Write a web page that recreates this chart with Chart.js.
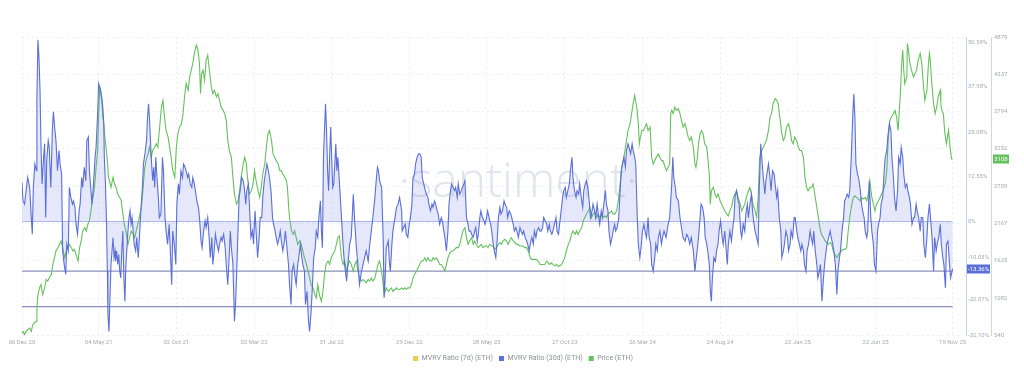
<!DOCTYPE html>
<html><head><meta charset="utf-8">
<script src="https://cdn.jsdelivr.net/npm/chart.js@4/dist/chart.umd.min.js"></script>
<style>html,body{margin:0;padding:0;background:#fff;}#c{display:block;}</style>
</head><body>
<canvas id="c" width="1024" height="374"></canvas>
<script>
// x = days since 06 Dec 2020
const tickDays = [0,149,300,451,602,753,903,1055,1206,1357,1508,1659,1809];
const tickLabels = ["06 Dec 20","04 May 21","02 Oct 21","02 Mar 22","31 Jul 22","29 Dec 22","28 May 23","27 Oct 23","26 Mar 24","24 Aug 24","22 Jan 25","22 Jun 25","19 Nov 25"];
const mvrvTicks = [50.59,37.98,25.08,12.55,0,-10.03,-22.07,-32.10];
const priceTicks = [540,1082,1625,2167,2709,3252,3794,4337,4879];
const refLines = [0,-14.0,-24.0];
const mvrv7d = [];
const mvrv30d = [[0,11.0],[2,5.8],[5,4.9],[8,8.7],[11,12.4],[15,9.6],[18,1.1],[20,-3.6],[22,9.6],[25,16.2],[28,14.3],[29,35.1],[31,51.2],[33,46.4],[35,37.0],[37,20.9],[39,10.6],[42,18.1],[44,21.9],[46,1.1],[48,17.2],[51,22.8],[53,20.9],[56,9.6],[59,25.7],[61,30.9],[64,25.7],[66,22.8],[69,14.3],[72,20.0],[74,16.2],[77,13.4],[79,-8.3],[82,-12.1],[85,-14.9],[87,-6.4],[90,-8.3],[92,9.6],[95,6.8],[98,4.9],[100,5.8],[103,4.0],[105,-0.8],[108,-3.6],[111,3.0],[113,4.9],[116,12.4],[118,9.6],[121,15.3],[124,11.5],[126,22.8],[129,23.8],[131,14.3],[134,8.7],[136,4.9],[139,10.6],[142,18.1],[144,20.9],[147,30.4],[149,38.9],[151,37.9],[153,37.0],[155,35.1],[157,32.3],[159,27.6],[160,18.1],[162,11.5],[164,1.1],[166,-14.0],[167,-26.3],[169,-31.0],[171,-21.5],[173,-12.1],[175,-8.3],[177,-4.5],[179,-10.2],[181,-8.3],[182,-11.2],[184,-8.3],[186,-12.1],[188,-9.3],[190,-14.0],[192,-15.9],[194,-8.3],[196,-2.7],[198,-15.9],[200,-22.5],[202,-12.1],[204,-7.4],[206,-2.7],[208,1.1],[210,3.0],[212,-0.8],[214,1.1],[216,-2.7],[218,-6.4],[221,-8.3],[223,-4.5],[226,-10.2],[229,-2.7],[231,3.0],[234,9.6],[236,16.2],[239,19.1],[242,22.8],[244,29.4],[246,33.2],[248,28.5],[250,21.9],[252,16.2],[254,11.5],[256,15.3],[258,9.6],[260,18.1],[262,13.4],[265,6.8],[267,1.1],[270,2.1],[273,18.1],[275,14.3],[278,1.1],[280,-2.7],[283,-6.4],[286,-0.8],[288,-7.4],[291,-17.8],[293,-2.7],[296,-6.4],[299,-12.1],[301,4.9],[304,10.6],[306,7.7],[309,14.3],[312,12.4],[314,16.2],[317,15.3],[319,14.3],[322,12.4],[324,13.4],[327,10.6],[330,9.6],[332,12.4],[335,10.6],[337,8.7],[340,5.8],[343,4.0],[345,1.1],[348,-5.5],[350,-7.4],[353,-2.7],[356,0.2],[358,-1.7],[361,1.1],[363,-2.7],[366,-10.2],[369,-4.5],[371,-12.1],[374,-7.4],[376,-3.6],[379,-6.4],[382,-8.3],[384,-6.4],[387,-4.5],[389,-5.5],[392,-3.6],[395,-7.4],[397,-12.1],[400,-17.8],[402,-12.1],[405,-2.7],[407,-7.4],[410,-12.1],[413,-28.1],[415,-23.4],[417,-15.9],[419,-6.4],[422,6.8],[424,8.7],[427,12.4],[430,11.5],[432,9.6],[435,4.9],[437,8.7],[440,10.6],[442,4.9],[445,-4.5],[448,-2.7],[450,-6.4],[453,3.0],[455,-2.7],[458,-10.2],[461,-4.5],[463,1.1],[466,1.1],[468,6.8],[471,11.5],[474,14.3],[476,16.2],[479,14.3],[481,12.4],[484,8.7],[487,1.1],[489,-0.8],[492,-2.7],[494,-4.5],[497,-6.4],[500,-4.5],[502,-2.7],[505,-6.4],[507,-8.3],[510,-5.5],[512,-2.7],[515,-7.4],[518,-12.1],[520,-17.8],[523,-23.4],[525,-14.0],[528,-12.1],[531,-15.9],[533,-17.8],[536,-12.1],[538,-10.2],[541,-6.4],[544,-10.2],[546,-12.1],[549,-14.0],[551,-23.4],[554,-19.7],[557,-28.1],[559,-31.0],[562,-25.4],[564,-19.7],[567,-10.2],[570,-7.4],[572,-2.7],[575,-4.5],[577,1.1],[580,5.8],[582,-2.7],[584,-7.4],[586,18.1],[588,25.7],[590,33.2],[592,25.7],[594,14.3],[596,8.7],[598,18.1],[600,26.6],[602,18.1],[604,9.6],[606,10.6],[608,16.2],[610,21.9],[612,14.3],[614,18.1],
[618,8.7],[621,1.1],[624,-6.4],[627,-12.1],[631,-16.8],[634,-11.2],[637,-6.4],[640,-4.5],[644,7.7],[647,-0.8],[650,-7.4],[653,-12.1],[656,-17.8],[660,-14.0],[663,-12.1],[666,-10.2],[669,-8.3],[673,-11.2],[676,-6.4],[679,-2.7],[682,1.1],[686,6.8],[689,12.4],[691,15.3],[693,14.3],[695,11.5],[699,9.6],[702,-4.5],[704,-21.5],[706,-15.9],[708,-7.4],[712,-5.5],[714,-11.2],[716,-14.0],[719,-6.4],[721,-2.7],[725,1.1],[728,4.0],[731,4.9],[734,6.8],[738,3.0],[739,-2.7],[742,-1.7],[745,-0.8],[747,-3.6],[750,-4.5],[752,-1.7],[755,1.1],[758,4.9],[760,12.4],[763,13.4],[765,16.2],[768,18.1],[771,19.1],[773,19.1],[776,18.1],[778,12.4],[781,10.6],[784,8.7],[786,7.7],[789,6.8],[791,4.9],[794,3.0],[797,4.9],[799,4.0],[802,5.8],[804,4.9],[807,3.0],[809,2.1],[812,-0.8],[815,1.1],[817,0.2],[820,-2.7],[822,-4.5],[825,-8.3],[828,-2.7],[830,4.9],[833,8.7],[835,10.6],[838,9.6],[841,8.7],[843,9.6],[846,6.8],[848,10.6],[851,7.7],[854,8.7],[856,9.6],[859,10.6],[861,11.5],[864,1.1],[867,-0.8],[869,-2.7],[872,-2.7],[874,-3.6],[877,-4.5],[880,-2.7],[882,-1.7],[885,-5.5],[887,-3.6],[890,1.1],[892,3.0],[895,1.1],[898,0.2],[900,-0.8],[903,1.1],[905,3.0],[908,1.1],[911,-0.8],[913,-2.7],[916,-6.4],[918,-8.3],[921,-10.2],[924,-4.5],[926,1.1],[929,4.0],[931,2.1],[934,3.0],[937,5.8],[939,4.9],[942,4.0],[944,1.1],[947,3.0],[950,2.1],[952,1.1],[955,-0.8],[957,-2.7],[960,-1.7],[962,-2.7],[965,-4.5],[968,-1.7],[970,-2.7],[973,-3.6],[975,-2.7],[978,-4.5],[981,-5.5],[983,-6.4],[986,-8.3],[988,-6.4],[991,-4.5],[994,-6.4],[996,-2.7],[999,-4.5],[1001,-2.7],[1004,-1.7],[1007,-2.7],[1009,-2.7],[1012,-1.7],[1014,1.1],[1017,0.2],[1020,-0.8],[1022,-2.7],[1025,-0.8],[1027,-2.7],[1030,-3.6],[1032,-2.7],[1035,-0.8],[1038,1.1],[1040,-2.7],[1043,-3.6],[1045,-0.8],[1048,3.0],[1051,6.8],[1053,8.7],[1056,9.6],[1058,6.8],[1061,8.7],[1064,10.6],[1066,14.3],[1069,18.1],[1071,12.4],[1074,8.7],[1077,6.8],[1079,8.7],[1082,7.7],[1084,10.6],[1087,6.8],[1090,4.0],[1092,8.7],[1095,10.6],[1097,11.5],[1100,9.6],[1103,4.9],[1105,1.1],[1108,3.0],[1110,4.9],[1113,3.0],[1115,1.1],[1118,4.9],[1121,1.1],[1123,-0.8],[1126,3.0],[1128,1.1],[1131,4.9],[1134,8.7],[1136,4.9],[1139,3.0],[1141,-2.7],[1144,-6.4],[1147,-4.5],[1149,-2.7],[1152,-0.8],[1154,-2.7],[1157,-1.7],[1160,1.1],[1162,6.8],[1165,14.3],[1167,16.2],[1170,18.1],[1173,15.3],[1175,20.0],[1178,21.9],[1180,20.9],[1183,19.1],[1186,21.9],[1188,20.0],[1191,18.1],[1193,16.2],[1196,1.1],[1198,-6.4],[1201,-10.2],[1204,-6.4],[1206,-2.7],[1209,-0.8],[1211,-2.7],[1214,-4.5],[1217,1.1],[1219,-4.5],[1222,-6.4],[1224,-12.1],[1227,-14.0],[1230,-10.2],[1232,-6.4],[1235,-8.3],[1237,-4.5],[1240,-2.7],[1243,-6.4],[1245,-4.5],[1248,-2.7],[1252,-4.5],[1256,-0.8],[1259,1.1],
[1263,10.6],[1265,18.1],[1267,12.4],[1270,9.6],[1272,6.8],[1276,5.8],[1279,1.1],[1282,-1.7],[1285,-4.5],[1289,-5.5],[1292,-3.6],[1295,-4.5],[1298,-6.4],[1301,-4.5],[1305,-8.3],[1308,-14.0],[1310,-11.2],[1313,-7.4],[1315,-4.5],[1318,1.1],[1320,4.9],[1323,4.0],[1326,1.1],[1328,-4.5],[1331,-6.4],[1333,-8.3],[1336,-12.1],[1338,-19.7],[1340,-22.5],[1342,-15.9],[1345,-10.2],[1348,-11.2],[1350,-8.3],[1353,-6.4],[1355,-2.7],[1358,0.2],[1361,-4.5],[1363,-6.4],[1366,-2.7],[1368,-6.4],[1371,-12.1],[1373,-6.4],[1376,-2.7],[1379,-5.5],[1381,-2.7],[1384,1.1],[1386,6.8],[1389,8.7],[1392,5.8],[1394,4.9],[1397,-2.7],[1399,-4.5],[1402,-0.8],[1405,-2.7],[1407,2.1],[1410,4.9],[1412,1.1],[1415,4.9],[1418,7.7],[1420,3.0],[1423,-0.8],[1425,-2.7],[1428,-4.5],[1431,-6.4],[1433,8.7],[1436,21.9],[1438,18.1],[1441,12.4],[1444,7.7],[1446,11.5],[1449,14.3],[1451,16.2],[1454,12.4],[1456,8.7],[1459,14.3],[1462,13.4],[1464,10.6],[1467,6.8],[1469,8.7],[1472,1.1],[1475,-2.7],[1477,-10.2],[1480,-8.3],[1482,-6.4],[1485,-2.7],[1488,-4.5],[1490,-8.3],[1493,-6.4],[1495,-2.7],[1498,-4.5],[1501,1.1],[1503,1.1],[1506,-2.7],[1508,-4.5],[1511,-6.4],[1514,-8.3],[1516,-6.4],[1519,-8.3],[1521,-12.1],[1524,-14.0],[1526,-8.3],[1529,-6.4],[1532,-2.7],[1534,-4.5],[1537,-6.4],[1539,-2.7],[1542,-8.3],[1545,-12.1],[1547,-15.9],[1550,-14.0],[1552,-12.1],[1555,-22.5],[1558,-15.9],[1560,-12.1],[1563,-8.3],[1565,-6.4],[1568,-4.5],[1571,-2.7],[1573,-4.5],[1576,-6.4],[1578,-8.3],[1581,-12.1],[1584,-20.6],[1586,-14.0],[1589,-10.2],[1591,-8.3],[1594,-2.7],[1597,1.1],[1599,5.8],[1602,6.8],[1604,7.7],[1607,6.8],[1609,8.7],[1612,18.1],[1615,30.4],[1617,36.0],[1619,29.4],[1621,16.2],[1624,13.4],[1626,12.4],[1629,9.6],[1632,4.9],[1634,3.0],[1637,1.1],[1639,-2.7],[1642,-4.5],[1644,-2.7],[1647,11.5],[1650,1.1],[1652,-2.7],[1655,-6.4],[1657,-12.1],[1660,-14.0],[1663,-2.7],[1665,-0.8],[1668,1.1],[1670,4.9],[1673,6.8],[1676,14.3],[1678,18.1],[1681,20.0],[1683,23.8],[1686,27.6],[1689,25.7],[1691,18.1],[1694,12.4],[1696,6.8],[1699,3.0],[1702,8.7],[1704,18.1],[1707,16.2],[1709,20.9],[1712,18.1],[1714,13.4],[1717,9.6],[1720,10.6],[1722,8.7],[1725,6.8],[1727,4.9],[1730,-0.8],[1733,1.1],[1735,1.1],[1738,4.9],[1740,3.0],[1743,1.1],[1746,-2.7],[1748,1.1],[1751,1.1],[1753,-6.4],[1756,-10.2],[1759,-4.5],[1761,1.1],[1764,4.9],[1766,1.1],[1769,-4.5],[1772,-14.0],[1774,-4.5],[1777,-8.3],[1779,-6.4],[1782,-4.5],[1785,-0.8],[1787,-6.4],[1790,-10.2],[1792,-12.1],[1795,-18.7],[1797,-6.4],[1800,-5.5],[1803,-12.1],[1805,-15.9],[1809,-13.36]];
const priceEth = [[0,574],[2,598],[5,549],[8,598],[11,622],[15,647],[18,598],[21,695],[24,720],[28,744],[29,939],[31,1134],[34,1231],[37,1280],[40,1134],[44,1231],[47,1353],[50,1329],[53,1377],[57,1426],[60,1572],[63,1669],[66,1767],[70,1816],[73,1864],[76,1913],[79,1816],[83,1669],[86,1767],[89,1816],[92,1864],[96,1816],[99,1767],[102,1791],[105,1718],[109,1621],[112,1816],[115,1913],[118,2059],[122,2108],[125,2059],[128,2156],[131,2205],[134,2351],[138,2546],[141,2692],[144,2984],[147,3228],[149,3715],[151,4153],[153,4056],[155,3958],[157,3715],[159,3617],[161,3423],[164,3228],[166,3082],[168,2838],[170,2790],[173,2692],[177,2838],[180,2741],[183,2692],[186,2595],[190,2546],[193,2497],[196,2303],[199,2156],[203,2010],[206,1864],[209,1962],[212,2059],[216,2010],[219,1962],[222,2059],[225,2156],[228,2254],[232,2400],[235,2643],[238,2936],[241,3082],[245,3179],[248,3277],[251,3130],[254,3228],[258,3277],[261,3325],[264,3277],[267,3520],[271,3861],[274,3958],[277,3715],[280,3520],[284,3423],[287,3277],[290,3130],[293,2936],[297,2838],[300,3277],[303,3471],[306,3569],[310,3617],[313,3764],[316,4007],[319,4202],[323,4104],[326,4299],[329,4397],[332,4494],[335,4640],[339,4762],[342,4689],[345,4494],[347,4056],[349,4348],[352,4397],[355,4251],[358,4543],[361,4616],[365,4348],[368,4153],[371,4056],[374,4104],[378,4007],[381,4056],[384,3958],[387,3861],[391,3812],[394,3764],[397,3666],[400,3374],[403,3228],[407,3130],[410,2838],[413,2595],[417,2449],[420,2497],[423,2643],[426,2838],[430,3033],[433,3130],[436,3033],[439,2790],[442,2595],[446,2643],[449,2741],[452,2936],[455,2790],[459,2643],[462,2546],[465,2692],[468,2887],[472,3033],[475,3277],[478,3471],[481,3520],[485,3374],[488,3179],[491,3130],[494,3082],[498,3033],[501,2936],[504,2936],[507,2887],[511,2838],[514,2790],[516,2692],[518,2449],[520,2254],[522,2156],[524,2059],[527,2010],[530,2059],[533,1962],[536,1864],[540,1913],[543,1864],[546,1767],[549,1669],[553,1572],[556,1475],[559,1377],[562,1280],[566,1231],[569,1134],[572,1085],[575,1280],[578,1134],[582,1036],[585,1182],[588,1426],[591,1572],[595,1621],[598,1572],[601,1669],[604,1718],[608,1767],[611,1864],[614,1962],[617,1986],
[621,1669],[624,1572],[627,1621],[631,1475],[634,1572],[637,1621],[640,1572],[644,1475],[647,1572],[650,1621],[653,1475],[656,1377],[660,1329],[663,1353],[666,1329],[669,1304],[673,1353],[676,1329],[679,1377],[682,1329],[686,1377],[689,1475],[692,1572],[695,1621],[699,1475],[702,1280],[704,1134],[706,1182],[708,1231],[712,1182],[715,1207],[718,1231],[721,1182],[725,1207],[728,1231],[731,1207],[734,1207],[738,1231],[741,1207],[744,1231],[747,1207],[750,1231],[754,1231],[757,1280],[760,1377],[763,1426],[767,1475],[770,1523],[773,1572],[776,1621],[780,1621],[783,1669],[786,1621],[789,1669],[793,1621],[796,1621],[799,1669],[802,1645],[806,1669],[809,1621],[812,1572],[815,1572],[819,1523],[822,1475],[825,1572],[828,1669],[832,1743],[835,1767],[838,1767],[841,1791],[844,1816],[848,1816],[851,1864],[854,1962],[857,2059],[861,2108],[864,1962],[867,1864],[870,1913],[874,1962],[877,1864],[880,1913],[883,1864],[887,1816],[890,1840],[893,1864],[896,1816],[900,1840],[903,1840],[906,1816],[909,1864],[913,1840],[916,1840],[919,1791],[922,1816],[926,1864],[929,1889],[932,1864],[935,1913],[938,1938],[942,1913],[945,1864],[948,1913],[951,1962],[955,1913],[958,1889],[961,1864],[964,1864],[968,1840],[971,1840],[974,1840],[977,1816],[981,1816],[984,1767],[987,1694],[990,1645],[994,1645],[997,1645],[1000,1645],[1003,1621],[1007,1572],[1010,1572],[1013,1572],[1016,1572],[1020,1621],[1023,1596],[1026,1572],[1029,1596],[1032,1572],[1036,1548],[1039,1572],[1042,1548],[1045,1548],[1049,1572],[1052,1621],[1055,1669],[1058,1767],[1062,1864],[1065,1913],[1068,2010],[1071,2059],[1075,2010],[1078,2059],[1081,2010],[1084,2059],[1088,2108],[1091,2205],[1094,2254],[1097,2303],[1101,2351],[1104,2400],[1107,2254],[1110,2303],[1114,2327],[1117,2254],[1120,2303],[1123,2254],[1127,2303],[1130,2254],[1133,2278],[1136,2254],[1139,2303],[1143,2327],[1146,2351],[1149,2303],[1152,2303],[1156,2351],[1159,2497],[1162,2692],[1165,2936],[1169,3082],[1172,3228],[1175,3374],[1178,3520],[1182,3617],[1185,3764],[1188,3910],[1191,4031],[1195,3861],[1198,3617],[1200,3325],[1202,3423],[1205,3520],[1208,3520],[1211,3569],[1214,3617],[1217,3520],[1221,3569],[1224,3130],[1227,3033],[1230,3082],[1233,3130],[1237,3179],[1240,3130],[1243,3082],[1246,3082],[1250,2984],[1253,2936],[1256,2984],[1259,3033],
[1261,3764],[1263,3812],[1266,3764],[1269,3861],[1272,3812],[1276,3837],[1279,3764],[1282,3666],[1285,3569],[1289,3617],[1292,3520],[1295,3423],[1298,3374],[1301,3423],[1305,3277],[1308,3033],[1310,2984],[1313,3130],[1315,3325],[1318,3471],[1321,3520],[1324,3471],[1327,3325],[1331,3277],[1333,3130],[1336,2887],[1338,2449],[1340,2643],[1344,2692],[1347,2595],[1350,2546],[1353,2595],[1357,2497],[1360,2449],[1363,2400],[1366,2351],[1370,2303],[1373,2278],[1376,2351],[1379,2400],[1383,2546],[1386,2595],[1389,2643],[1392,2546],[1396,2449],[1399,2351],[1402,2400],[1405,2449],[1408,2546],[1412,2643],[1415,2692],[1418,2595],[1421,2449],[1425,2351],[1428,2254],[1431,2546],[1434,3130],[1438,3228],[1441,3277],[1444,3325],[1447,3374],[1451,3520],[1454,3715],[1457,3764],[1460,3910],[1464,3983],[1467,3958],[1470,3910],[1473,3715],[1477,3471],[1480,3374],[1483,3423],[1486,3569],[1490,3617],[1493,3520],[1496,3374],[1499,3325],[1502,3423],[1506,3374],[1509,3277],[1512,3228],[1515,3228],[1519,3130],[1522,2838],[1525,2692],[1528,2643],[1532,2692],[1535,2692],[1538,2741],[1541,2595],[1545,2400],[1548,2254],[1551,2108],[1554,2010],[1558,1962],[1561,1913],[1564,1889],[1567,1864],[1571,1889],[1574,1864],[1577,1767],[1580,1718],[1584,1669],[1587,1718],[1590,1743],[1593,1767],[1596,1791],[1600,1791],[1603,1816],[1606,2059],[1609,2254],[1613,2449],[1616,2546],[1619,2570],[1622,2546],[1626,2522],[1629,2497],[1632,2546],[1635,2522],[1639,2546],[1642,2497],[1645,2595],[1648,2790],[1652,2546],[1655,2449],[1658,2351],[1661,2449],[1665,2497],[1668,2546],[1671,2595],[1674,2643],[1678,2741],[1681,2936],[1684,3423],[1687,3666],[1690,3715],[1694,3764],[1697,3812],[1700,3715],[1703,3520],[1707,4007],[1710,4494],[1712,4689],[1714,4397],[1716,4202],[1720,4299],[1721,4786],[1723,4689],[1726,4494],[1729,4397],[1733,4299],[1736,4348],[1739,4397],[1742,4543],[1746,4640],[1749,4494],[1752,4202],[1755,3958],[1759,4104],[1762,4494],[1764,4640],[1766,4494],[1768,4251],[1772,3910],[1775,3764],[1778,3861],[1781,4007],[1785,4104],[1786,3910],[1788,3812],[1791,3764],[1794,3471],[1797,3325],[1801,3520],[1804,3277],[1807,3106],[1809,3108]];

const FONT = 'Roboto, "Open Sans", "DejaVu Sans", sans-serif';
Chart.defaults.font.family = FONT;
const BLUE = '#5b6fd9', GREEN = '#64c25b', YELLOW = '#f2c94c';
const TICKC = '#a6aab1';
const toPts = a => a.map(p => ({x: p[0], y: p[1]}));
const lastDay = mvrv30d[mvrv30d.length - 1][0];

const datasets = [
  {label: 'MVRV Ratio (7d) (ETH)', data: toPts(mvrv7d), borderColor: YELLOW, backgroundColor: YELLOW, yAxisID: 'y', pointRadius: 0, borderWidth: 1.1},
  {label: 'MVRV Ratio (30d) (ETH)', data: toPts(mvrv30d), borderColor: BLUE, backgroundColor: 'rgba(95,115,225,0.16)', fill: 'origin', yAxisID: 'y', pointRadius: 0, borderWidth: 1.1},
  {label: 'Price (ETH)', data: toPts(priceEth), borderColor: GREEN, backgroundColor: GREEN, fill: false, yAxisID: 'y1', pointRadius: 0, borderWidth: 1.1}
];
refLines.forEach((v, i) => datasets.push({
  label: 'ref' + i, data: [{x: 0, y: v}, {x: lastDay, y: v}],
  borderColor: i === 0 ? 'rgba(120,132,215,0.55)' : '#8a90bd',
  borderWidth: i === 0 ? 1 : 1.2, pointRadius: 0, fill: false, yAxisID: 'y'
}));

const watermark = {
  id: 'watermark',
  beforeDatasetsDraw(chart) {
    const ctx = chart.ctx;
    ctx.save();
    ctx.font = '300 48px "Open Sans", sans-serif';
    ctx.fillStyle = 'rgba(200,205,224,0.55)';
    ctx.textAlign = 'center';
    ctx.textBaseline = 'alphabetic';
    ctx.fillText('\u00B7santiment\u00B7', 518, 197);
    ctx.restore();
  }
};
const valueBoxes = {
  id: 'valueBoxes',
  afterDraw(chart) {
    const ctx = chart.ctx, ya = chart.scales.y, yp = chart.scales.y1;
    const mv = mvrv30d[mvrv30d.length - 1][1];
    const pv = priceEth[priceEth.length - 1][1];
    const box = (txt, x, w, y, col) => {
      ctx.fillStyle = col;
      ctx.fillRect(x, Math.round(y) - 4.5, w, 9);
      ctx.fillStyle = '#fff';
      ctx.font = '6px ' + FONT;
      ctx.textAlign = 'center';
      ctx.textBaseline = 'middle';
      ctx.fillText(txt, x + w / 2, Math.round(y) + 0.5);
    };
    ctx.save();
    box(mv.toFixed(2) + '%', ya.left + 1, 23, ya.getPixelForValue(mv), BLUE);
    box(String(pv), yp.left + 2, 16, yp.getPixelForValue(pv), GREEN);
    ctx.restore();
  }
};

new Chart(document.getElementById('c'), {
  type: 'line',
  data: {datasets},
  plugins: [watermark, valueBoxes],
  options: {
    responsive: false, animation: false, devicePixelRatio: 1,
    layout: {padding: {left: 22, top: 37, right: 0, bottom: 2}},
    elements: {line: {tension: 0}},
    plugins: {
      tooltip: {enabled: false},
      legend: {
        position: 'bottom',
        labels: {
          boxWidth: 5, boxHeight: 5, padding: 6, color: '#8e9196', font: {size: 7},
          filter: item => item.datasetIndex < 3,
          generateLabels: chart => Chart.defaults.plugins.legend.labels.generateLabels(chart).map(l => {
            const ds = chart.data.datasets[l.datasetIndex];
            l.fillStyle = ds.borderColor; l.strokeStyle = ds.borderColor; l.lineWidth = 0;
            return l;
          })
        }
      }
    },
    scales: {
      x: {
        type: 'linear', min: 0, max: 1835,
        afterBuildTicks: s => { s.ticks = tickDays.map(v => ({value: v})); },
        afterFit: s => { s.height = 13.6; },
        ticks: {autoSkip: false, maxRotation: 0, padding: 3, color: TICKC, font: {size: 6},
          callback: (v, i) => tickLabels[i]},
        grid: {color: '#eceef3', drawTicks: false},
        border: {display: false, dash: [2, 3]}
      },
      y: {
        type: 'linear', position: 'right', min: -32.10, max: 52.0, weight: 0,
        afterBuildTicks: s => { s.ticks = mvrvTicks.map(v => ({value: v})); },
        afterFit: s => { s.width = 25; },
        ticks: {autoSkip: false, padding: 2, color: TICKC, font: {size: 6},
          callback: v => v === 0 ? '0%' : v.toFixed(2) + '%'},
        grid: {drawOnChartArea: false, drawTicks: false},
        border: {display: true, color: '#c9cdec', width: 1}
      },
      y1: {
        type: 'linear', position: 'right', min: 540, max: 4879, weight: 1,
        afterBuildTicks: s => { s.ticks = priceTicks.map(v => ({value: v})); },
        afterFit: s => { s.width = 33; },
        ticks: {autoSkip: false, padding: 3, color: TICKC, font: {size: 6},
          callback: v => String(v)},
        grid: {drawOnChartArea: true, drawTicks: false, color: '#eceef3'},
        border: {display: true, color: '#c3e6bc', width: 1, dash: [2, 3]}
      }
    }
  }
});
</script>
</body></html>
